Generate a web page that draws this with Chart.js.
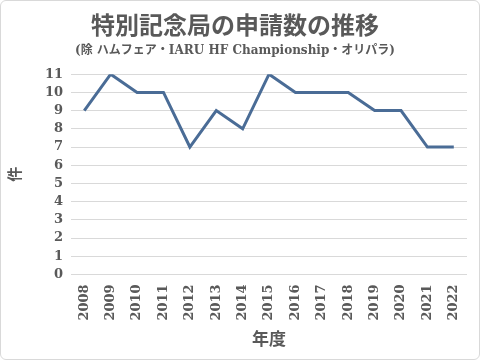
<!DOCTYPE html>
<html>
<head>
<meta charset="utf-8">
<script src="https://cdn.jsdelivr.net/npm/chart.js@4/dist/chart.umd.min.js"></script>
<style>
  body { margin: 0; background: #fff; }
  #wrap { width: 478px; height: 358px; border: 1px solid #d9d9d9; border-radius: 6px; }
</style>
</head>
<body>
<div id="wrap"><canvas id="line"></canvas></div>
<script>
var years = ['2008', '2009', '2010', '2011', '2012', '2013', '2014', '2015',
             '2016', '2017', '2018', '2019', '2020', '2021', '2022'];
var counts = [9, 11, 10, 10, 7, 9, 8, 11, 10, 10, 10, 9, 9, 7, 7];

var fam = '"DejaVu Serif", "Noto Sans CJK JP", serif';
var grey = '#595959';

var ctx = document.getElementById('line').getContext('2d');
var myChart = new Chart(ctx, {
    type: 'line',
    data: {
        labels: years,
        datasets: [{
            label: '申請数',
            data: counts,
            borderColor: '#4a6c96',
            borderWidth: 3,
            pointRadius: 0,
            tension: 0,
            fill: false
        }]
    },
    options: {
        responsive: true,
        maintainAspectRatio: false,
        animation: false,
        layout: { padding: { left: 2, right: 12, top: 2, bottom: 4 } },
        plugins: {
            legend: { display: false },
            tooltip: { enabled: false },
            title: {
                display: true,
                text: '特別記念局の申請数の推移',
                color: grey,
                font: { family: fam, size: 24, weight: 'bold' },
                padding: { top: 10, bottom: 2 }
            },
            subtitle: {
                display: true,
                text: '(除 ハムフェア・IARU HF Championship・オリパラ)',
                color: grey,
                font: { family: fam, size: 12, weight: 'bold' },
                padding: { bottom: 16 }
            }
        },
        scales: {
            x: {
                offset: true,
                grid: { display: false },
                border: { display: false },
                ticks: {
                    autoSkip: false,
                    color: grey,
                    font: { family: fam, size: 13, weight: 'bold' },
                    maxRotation: 90,
                    minRotation: 90,
                    padding: 2
                },
                title: {
                    display: true,
                    text: '年度',
                    color: grey,
                    font: { family: fam, size: 17, weight: 'bold' },
                    padding: { top: 8 }
                }
            },
            y: {
                min: 0,
                max: 11,
                grid: { color: '#d9d9d9', drawTicks: false },
                border: { display: false },
                ticks: {
                    autoSkip: false,
                    stepSize: 1,
                    color: grey,
                    font: { family: fam, size: 13, weight: 'bold' },
                    padding: 8
                },
                title: {
                    display: true,
                    text: '件',
                    color: grey,
                    font: { family: fam, size: 15, weight: 'bold' },
                    padding: { bottom: 12 }
                }
            }
        }
    }
});
</script>
</body>
</html>
